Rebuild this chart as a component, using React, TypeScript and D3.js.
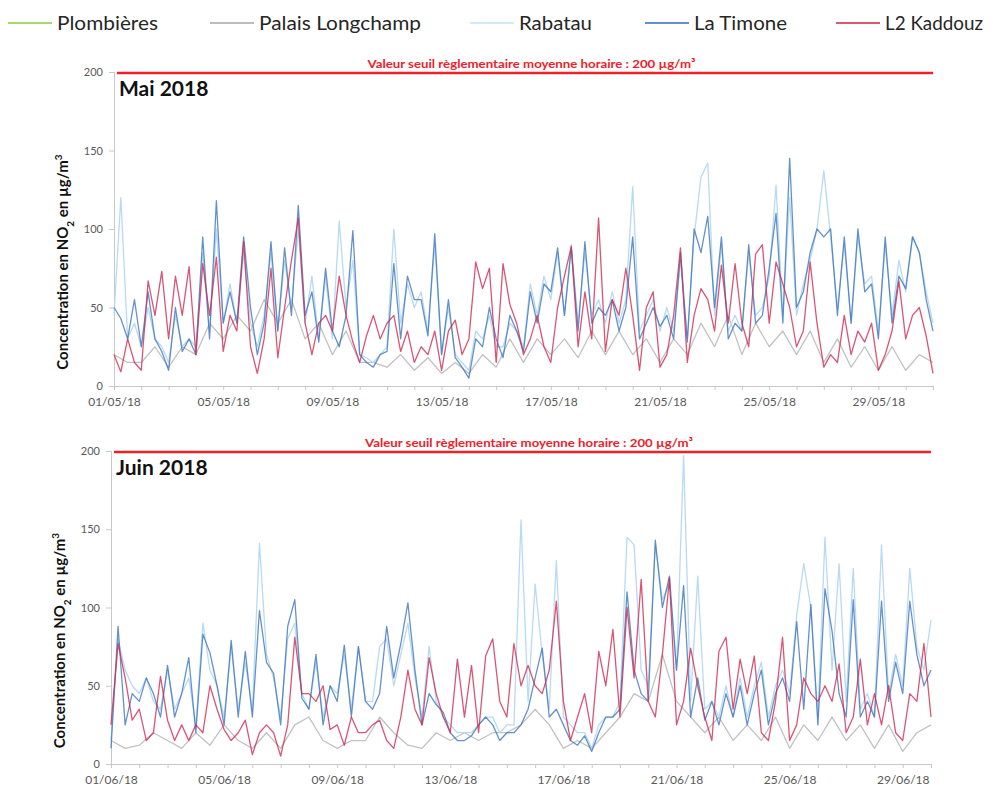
import React, { useEffect, useRef } from "react";
import * as d3 from "d3";

const stations = ["Plombières", "Palais Longchamp", "Rabatau", "La Timone", "L2 Kaddouz"];
const legendColors = ["#8cc83c", "#a6a6a6", "#bfe3f7", "#2e6cc0", "#d0203c"];
const lineColors = ["#8cc83c", "#c2c2c2", "#b8daf2", "#3a72bd", "#cf2a52"];
const lineOpacity = [1, 1, 1, 0.78, 0.8];
const yTicks = [0, 50, 100, 150, 200];
const seuil = 200;
const seuilLabel = "Valeur seuil règlementaire moyenne horaire : 200 µg/m³";

// Mai 2018 : un point toutes les 6 h (12 h pour Palais Longchamp)
const maiPlombieres: number[] = [];
const maiLongchamp = [
  20, 15, 15, 25, 12, 25, 20, 40, 30, 45, 35, 55, 40, 55, 30, 40, 20, 35, 15, 15,
  12, 20, 10, 18, 8, 15, 8, 20, 12, 30, 15, 30, 20, 30, 18, 35, 20, 35, 20, 30,
  15, 30, 20, 40, 25, 45, 20, 40, 25, 35, 20, 35, 15, 30, 12, 25, 10, 25, 10, 20, 15,
];
const maiRabatau = [
  45, 120, 30, 40, 25, 50, 30, 25, 15, 45, 25, 30, 25, 85, 35, 100, 40, 65, 40, 85,
  40, 25, 45, 85, 35, 80, 50, 100, 40, 70, 30, 70, 30, 105, 50, 80, 20, 18, 15, 20,
  25, 100, 40, 65, 50, 60, 35, 90, 20, 50, 20, 15, 10, 35, 30, 45, 25, 25, 40, 35,
  25, 65, 45, 70, 55, 85, 45, 90, 40, 85, 45, 55, 40, 60, 40, 55, 127, 35, 45, 55,
  35, 50, 35, 80, 30, 95, 133, 142, 45, 90, 35, 45, 35, 85, 45, 50, 70, 128, 45, 120,
  45, 65, 80, 100, 137, 95, 50, 90, 40, 95, 65, 70, 35, 90, 45, 80, 60, 95, 85, 60, 40,
];
const maiTimone = [
  50, 43, 30, 55, 25, 60, 30, 22, 10, 50, 22, 30, 20, 95, 30, 118, 40, 60, 40, 95,
  50, 20, 40, 92, 35, 88, 45, 115, 45, 60, 28, 75, 35, 25, 45, 99, 20, 15, 12, 20,
  22, 78, 30, 70, 55, 55, 32, 97, 20, 55, 18, 12, 5, 30, 25, 50, 30, 18, 45, 35,
  22, 60, 40, 65, 60, 88, 45, 88, 35, 92, 40, 50, 45, 55, 35, 50, 95, 30, 40, 50,
  38, 45, 30, 85, 28, 100, 85, 108, 50, 95, 30, 40, 35, 90, 40, 45, 75, 110, 40, 145,
  50, 60, 85, 100, 95, 100, 45, 95, 40, 100, 60, 65, 30, 95, 40, 70, 62, 95, 85, 55, 35,
];
const maiKaddouz = [
  20, 9, 30, 15, 10, 67, 45, 73, 30, 70, 45, 76, 20, 78, 45, 82, 22, 45, 35, 92,
  25, 8, 30, 75, 18, 50, 80, 107, 40, 20, 40, 45, 35, 70, 45, 28, 15, 32, 45, 30,
  40, 45, 22, 35, 15, 25, 20, 35, 10, 35, 42, 20, 30, 79, 62, 75, 15, 78, 52, 40,
  20, 30, 45, 25, 15, 50, 70, 89, 25, 60, 30, 107, 22, 55, 45, 75, 45, 10, 50, 60,
  12, 20, 45, 88, 15, 45, 62, 55, 35, 77, 40, 78, 40, 25, 84, 90, 40, 79, 65, 50,
  25, 35, 79, 40, 12, 20, 15, 45, 20, 35, 28, 40, 10, 20, 35, 67, 30, 45, 50, 32, 8,
];

// Juin 2018
const juinPlombieres: number[] = [];
const juinLongchamp = [
  15, 10, 12, 20, 15, 10, 20, 12, 25, 15, 10, 20, 10, 25, 30, 15, 10, 15, 15, 30,
  20, 12, 10, 20, 15, 20, 15, 20, 20, 25, 35, 25, 10, 15, 10, 20, 30, 45, 40, 70,
  40, 30, 20, 30, 15, 25, 15, 30, 10, 25, 15, 30, 15, 25, 10, 25, 8, 20, 25,
];
const juinRabatau = [
  15, 80, 60, 50, 45, 55, 40, 35, 60, 35, 45, 55, 25, 90, 60, 50, 30, 75, 35, 65,
  35, 141, 70, 55, 30, 80, 90, 45, 35, 65, 30, 50, 45, 70, 35, 75, 40, 40, 75, 80,
  50, 70, 90, 55, 30, 75, 40, 30, 25, 20, 20, 20, 25, 30, 30, 20, 25, 25, 156, 40,
  115, 70, 35, 130, 30, 25, 20, 20, 10, 25, 30, 30, 40, 145, 140, 60, 50, 140, 105, 115,
  60, 197, 40, 120, 35, 40, 30, 50, 30, 55, 30, 50, 65, 30, 50, 60, 45, 95, 128, 100,
  30, 145, 60, 128, 40, 125, 35, 45, 30, 140, 45, 70, 50, 125, 75, 60, 92,
];
const juinTimone = [
  10, 88, 25, 45, 40, 55, 45, 30, 63, 30, 45, 68, 20, 83, 71, 50, 25, 79, 30, 72,
  30, 98, 65, 58, 25, 88, 105, 42, 35, 70, 25, 50, 40, 76, 30, 75, 40, 35, 45, 88,
  55, 77, 103, 60, 25, 45, 38, 33, 20, 15, 15, 18, 25, 30, 25, 15, 20, 20, 25, 35,
  55, 74, 30, 35, 25, 15, 12, 18, 8, 20, 30, 30, 35, 110, 60, 45, 40, 143, 100, 120,
  60, 114, 30, 55, 28, 40, 25, 45, 30, 50, 25, 45, 60, 25, 45, 55, 40, 91, 35, 102,
  25, 112, 85, 45, 30, 105, 30, 40, 30, 104, 40, 65, 45, 104, 70, 50, 60,
];
const juinKaddouz = [
  25, 77, 55, 28, 35, 15, 20, 56, 28, 15, 25, 15, 25, 20, 50, 35, 22, 15, 20, 28,
  6, 20, 25, 20, 5, 25, 81, 45, 45, 40, 50, 22, 25, 12, 30, 20, 20, 25, 28, 15,
  10, 30, 60, 35, 25, 68, 45, 30, 20, 67, 30, 63, 20, 69, 80, 40, 30, 77, 50, 63,
  50, 45, 60, 104, 40, 15, 30, 45, 20, 72, 50, 86, 30, 100, 55, 118, 40, 30, 70, 119,
  25, 40, 74, 50, 30, 15, 72, 81, 35, 67, 45, 69, 20, 15, 40, 81, 15, 25, 55, 45,
  40, 50, 40, 64, 20, 30, 67, 25, 45, 25, 50, 20, 15, 45, 40, 77, 30,
];

const panels = [
  {
    title: "Mai 2018",
    start: new Date(2018, 4, 1),
    end: new Date(2018, 4, 31),
    x0: 114, x1: 933, y0: 386, y1: 72,
    series: [maiPlombieres, maiLongchamp, maiRabatau, maiTimone, maiKaddouz],
    steps: [12, 12, 6, 6, 6],
  },
  {
    title: "Juin 2018",
    start: new Date(2018, 5, 1),
    end: new Date(2018, 5, 30),
    x0: 111, x1: 931, y0: 764, y1: 451,
    series: [juinPlombieres, juinLongchamp, juinRabatau, juinTimone, juinKaddouz],
    steps: [12, 12, 6, 6, 6],
  },
];

// position et largeur des entrées de légende
const legendX = [8, 210, 470, 645, 836];
const legendW = [101, 162, 73, 93, 98];
const font = "Lato, 'Open Sans', sans-serif";

export default function App() {
  const svgRef = useRef<SVGSVGElement>(null);

  useEffect(() => {
    const svg = d3.select(svgRef.current);
    svg.selectAll("*").remove();

    svg.append("rect").attr("width", 993).attr("height", 787).attr("fill", "#fff");

    // légende
    const leg = svg.append("g").attr("font-family", font).attr("font-size", 19.5).attr("fill", "#262626");
    stations.forEach((s, i) => {
      leg.append("line")
        .attr("x1", legendX[i]).attr("x2", legendX[i] + 44)
        .attr("y1", 23).attr("y2", 23)
        .attr("stroke", legendColors[i]).attr("stroke-width", 1.6);
      leg.append("text")
        .attr("x", legendX[i] + 49).attr("y", 30)
        .attr("textLength", legendW[i]).attr("lengthAdjust", "spacingAndGlyphs")
        .text(s);
    });

    panels.forEach((p) => {
      const x = d3.scaleTime().domain([p.start, p.end]).range([p.x0, p.x1]);
      const y = d3.scaleLinear().domain([0, 200]).range([p.y0, p.y1]);
      const g = svg.append("g");

      const yAxis = g.append("g")
        .attr("transform", `translate(${p.x0},0)`)
        .call(d3.axisLeft(y).tickValues(yTicks).tickSize(5).tickPadding(6));
      const fmt = d3.timeFormat("%d/%m/%y");
      const xAxis = g.append("g")
        .attr("transform", `translate(0,${p.y0})`)
        .call(
          d3.axisBottom(x)
            .ticks(d3.timeDay.every(1))
            .tickSize(4)
            .tickPadding(7)
            .tickFormat((d, i) => (i % 4 === 0 ? fmt(d as Date) : ""))
        );
      [yAxis, xAxis].forEach((a) => {
        a.select(".domain").attr("stroke", "#c8c8c8");
        a.selectAll(".tick line").attr("stroke", "#c8c8c8");
        a.selectAll(".tick text")
          .attr("fill", "#595959")
          .attr("font-family", font)
          .attr("font-size", 12);
      });
      yAxis.selectAll(".tick text").attr("font-size", 11);

      // séries horaires
      p.series.forEach((vals, si) => {
        if (!vals.length) return;
        const step = p.steps[si] * 3600 * 1000;
        const line = d3.line<number>()
          .x((_, i) => x(new Date(p.start.getTime() + i * step)))
          .y((d) => y(d));
        g.append("path")
          .attr("d", line(vals))
          .attr("fill", "none")
          .attr("stroke", lineColors[si])
          .attr("stroke-opacity", lineOpacity[si])
          .attr("stroke-width", 1.3)
          .attr("stroke-linejoin", "round");
      });

      // seuil réglementaire
      g.append("line")
        .attr("x1", p.x0 + 3).attr("x2", p.x1)
        .attr("y1", y(seuil) + 1).attr("y2", y(seuil) + 1)
        .attr("stroke", "#f0202a").attr("stroke-width", 2.6);
      g.append("text")
        .attr("x", (p.x0 + p.x1) / 2 + 8).attr("y", y(seuil) - 4)
        .attr("text-anchor", "middle")
        .attr("font-family", font).attr("font-weight", "bold").attr("font-size", 12)
        .attr("textLength", 328).attr("lengthAdjust", "spacingAndGlyphs")
        .attr("fill", "#f0202a")
        .text(seuilLabel);

      g.append("text")
        .attr("x", p.x0 + 5).attr("y", y(seuil) + 24)
        .attr("font-family", font).attr("font-weight", "bold").attr("font-size", 21)
        .attr("fill", "#111")
        .text(p.title);

      const ty = g.append("text")
        .attr("transform", `translate(${p.x0 - 46},${(p.y0 + p.y1) / 2 + 33}) rotate(-90)`)
        .attr("text-anchor", "middle")
        .attr("font-family", font).attr("font-weight", "bold").attr("font-size", 15)
        .attr("fill", "#111");
      ty.append("tspan").text("Concentration en NO");
      ty.append("tspan").attr("baseline-shift", "sub").attr("font-size", 10).text("2");
      ty.append("tspan").text(" en µg/m");
      ty.append("tspan").attr("baseline-shift", "super").attr("font-size", 10).text("3");
    });
  }, []);

  return (
    <div style={{ position: "absolute", left: 0, top: 0 }}>
      <svg ref={svgRef} width={993} height={787} style={{ display: "block" }}></svg>
    </div>
  );
}
